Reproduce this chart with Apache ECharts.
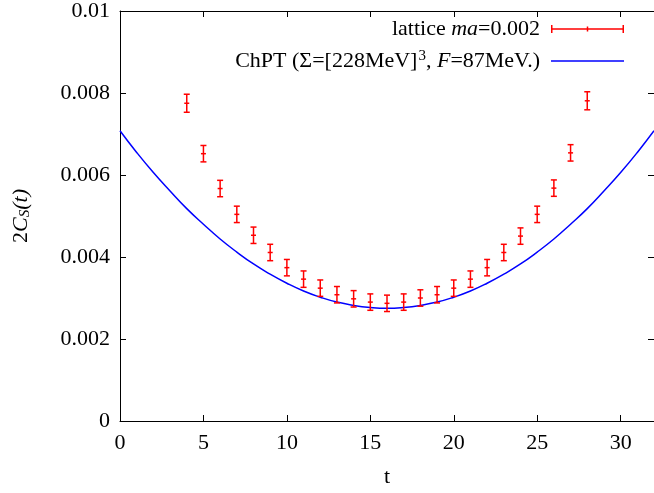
<!DOCTYPE html>
<html>
<head>
<meta charset="utf-8">
<script src="https://cdn.jsdelivr.net/npm/echarts@6/dist/echarts.min.js"></script>
<style>
  html, body { margin: 0; padding: 0; background: #ffffff; }
  #chart { width: 654px; height: 493px; }
</style>
</head>
<body>
<div id="chart"></div>
<script>
// lattice data
const latticeT = [4, 5, 6, 7, 8, 9, 10, 11, 12, 13, 14, 15, 16, 17, 18, 19, 20, 21, 22, 23, 24, 25, 26, 27, 28]
const latticeC = [0.00775, 0.00652, 0.00567, 0.00504, 0.00453, 0.00411, 0.00374, 0.00346, 0.00324, 0.00308, 0.00298, 0.00290, 0.00287,
  0.00290, 0.00300, 0.00308, 0.00324, 0.00346, 0.00374, 0.00411, 0.00451, 0.00504, 0.00568, 0.00654, 0.00781]
const latticeErr = [0.00022, 0.0002, 0.0002, 0.0002, 0.0002, 0.0002, 0.0002, 0.0002, 0.0002, 0.0002, 0.0002, 0.0002, 0.0002,
  0.0002, 0.0002, 0.0002, 0.0002, 0.0002, 0.0002, 0.0002, 0.0002, 0.0002, 0.0002, 0.0002, 0.00022]

// ChPT curve
const chptT = [0, 1, 2, 3, 4, 5, 6, 7, 8, 9, 10, 11, 12, 13, 14, 15, 16, 17, 18, 19, 20, 21, 22, 23, 24, 25, 26, 27, 28, 29, 30, 31, 32]
const chptC = [0.00708, 0.00655, 0.00606, 0.00561, 0.00518, 0.00480, 0.00444, 0.00412, 0.00383, 0.00358, 0.00336, 0.00317, 0.00302,
  0.00290, 0.00282, 0.00277, 0.00275, 0.00277, 0.00282, 0.00290, 0.00302, 0.00317, 0.00336, 0.00358, 0.00383, 0.00412, 0.00444,
  0.00480, 0.00518, 0.00561, 0.00606, 0.00655, 0.00708]

const font = 'Liberation Serif'
const fs = 22
const red = '#ff0000'
const blue = '#0000ff'

let myChart = echarts.init(document.getElementById('chart'))

let latticeData = latticeT.map((t, i) => [t, latticeC[i], latticeErr[i]])
let chptData = chptT.map((t, i) => [t, chptC[i]])

function errorBar (params, api) {
  let x = api.value(0)
  let y = api.value(1)
  let e = api.value(2)
  let hi = api.coord([x, y + e])
  let lo = api.coord([x, y - e])
  let mid = api.coord([x, y])
  let style = { stroke: red, lineWidth: 1.5 }
  return {
    type: 'group',
    children: [
      { type: 'line', shape: { x1: hi[0], y1: hi[1], x2: lo[0], y2: lo[1] }, style: style },
      { type: 'line', shape: { x1: hi[0] - 3, y1: hi[1], x2: hi[0] + 3, y2: hi[1] }, style: style },
      { type: 'line', shape: { x1: lo[0] - 3, y1: lo[1], x2: lo[0] + 3, y2: lo[1] }, style: style },
      { type: 'line', shape: { x1: mid[0] - 2.5, y1: mid[1], x2: mid[0] + 2.5, y2: mid[1] }, style: style }
    ]
  }
}

let axisCommon = {
  axisLine: { onZero: false, lineStyle: { color: '#000000', width: 1 } },
  axisTick: { inside: true, length: 6, lineStyle: { color: '#000000' } },
  splitLine: { show: false }
}

let legendText = {
  fontFamily: font,
  fontSize: fs,
  color: '#000000',
  lineHeight: 24
}

myChart.setOption({
  backgroundColor: '#ffffff',
  animation: false,
  grid: {
    left: 120,
    right: -3,
    top: 10,
    bottom: 70,
    show: false
  },
  legend: [
    {
      right: 30,
      top: 17,
      padding: 0,
      selectedMode: false,
      align: 'right',
      itemWidth: 73,
      itemHeight: 8,
      itemStyle: { borderWidth: 0 },
      data: [{ name: 'lattice', icon: 'path://M0,0h1.5v8h-1.5z M0,3.25h73v1.5h-73z M71.5,0h1.5v8h-1.5z M35.75,1.5h1.5v5h-1.5z' }],
      formatter: () => '{a|lattice }{i|ma}{b|=0.002}',
      textStyle: Object.assign({}, legendText, {
        rich: {
          a: legendText,
          i: Object.assign({}, legendText, { fontStyle: 'italic' }),
          b: Object.assign({}, legendText, { padding: [0, 6, 0, 0] })
        }
      })
    },
    {
      right: 30,
      top: 49,
      padding: 0,
      selectedMode: false,
      align: 'right',
      itemWidth: 73,
      itemHeight: 8,
      itemStyle: { borderWidth: 0 },
      data: [{ name: 'ChPT', icon: 'path://M0,0h73v1.5h-73z' }],
      formatter: () => '{a|ChPT (Σ=[228MeV]}{s|3}{a|, }{i|F}{b|=87MeV.)}',
      textStyle: Object.assign({}, legendText, {
        rich: {
          a: legendText,
          s: Object.assign({}, legendText, { fontSize: 15, verticalAlign: 'top', lineHeight: 15, padding: [0, 0, 14, 1] }),
          i: Object.assign({}, legendText, { fontStyle: 'italic' }),
          b: Object.assign({}, legendText, { padding: [0, 6, 0, 0] })
        }
      })
    }
  ],
  xAxis: [
    Object.assign({}, axisCommon, {
      type: 'value',
      min: 0,
      max: 32,
      interval: 5,
      name: 't',
      nameLocation: 'middle',
      nameGap: 45,
      nameTextStyle: { fontFamily: font, fontSize: fs, color: '#000000' },
      axisLabel: { fontFamily: font, fontSize: fs, color: '#000000', margin: 11, showMaxLabel: false }
    }),
    Object.assign({}, axisCommon, {
      type: 'value',
      position: 'top',
      min: 0,
      max: 32,
      interval: 5,
      axisLabel: { show: false }
    })
  ],
  yAxis: [
    Object.assign({}, axisCommon, {
      type: 'value',
      min: 0,
      max: 0.01,
      interval: 0.002,
      name: '{n|2}{i|C}{s|S}{i|(t)}',
      nameLocation: 'middle',
      nameRotate: 90,
      nameGap: 87,
      nameTextStyle: {
        rich: {
          n: { fontFamily: font, fontSize: fs, color: '#000000' },
          i: { fontFamily: font, fontSize: fs, color: '#000000', fontStyle: 'italic' },
          s: { fontFamily: font, fontSize: 15, color: '#000000', fontStyle: 'italic', verticalAlign: 'bottom', padding: [9, 0, 0, 0] }
        }
      },
      axisLabel: {
        fontFamily: font,
        fontSize: fs,
        color: '#000000',
        margin: 10,
        formatter: (v) => String(parseFloat(v.toFixed(4)))
      }
    }),
    Object.assign({}, axisCommon, {
      type: 'value',
      position: 'right',
      min: 0,
      max: 0.01,
      interval: 0.002,
      axisLabel: { show: false }
    })
  ],
  series: [
    {
      name: 'ChPT',
      type: 'line',
      smooth: true,
      symbol: 'none',
      data: chptData,
      itemStyle: { color: blue },
      lineStyle: { color: blue, width: 1.5 },
      z: 2
    },
    {
      name: 'lattice',
      type: 'custom',
      renderItem: errorBar,
      encode: { x: 0, y: 1 },
      data: latticeData,
      itemStyle: { color: red },
      z: 3
    }
  ]
})
</script>
</body>
</html>
